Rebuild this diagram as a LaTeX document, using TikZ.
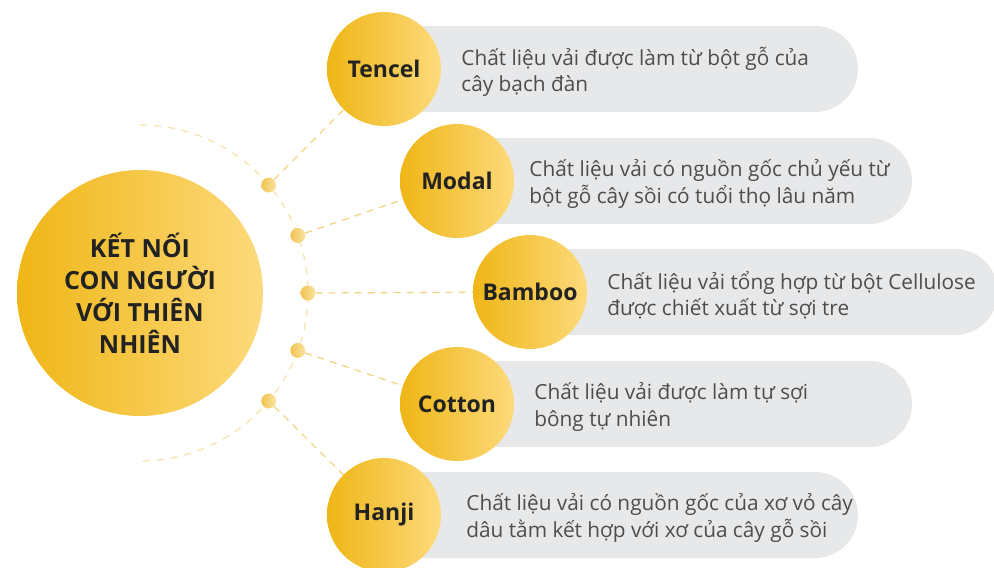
\documentclass[tikz,border=0pt]{standalone}
\usepackage{fontspec}
\setmainfont{Open Sans}
\usetikzlibrary{positioning,backgrounds}
\definecolor{goldL}{HTML}{EFB616}
\definecolor{goldR}{HTML}{FDDA7C}
\definecolor{dotL}{HTML}{F0C453}
\definecolor{dotR}{HTML}{FBE3A2}
\definecolor{pillgray}{HTML}{E7E8EA}
\definecolor{ink}{HTML}{222222}
\definecolor{bodytxt}{HTML}{4D4D4D}
\definecolor{linkc}{HTML}{F2D27C}
\definecolor{arcc}{HTML}{F6E2A6}

\begin{document}
\begin{tikzpicture}[
  x=1pt, y=-1pt,
  hub/.style={circle, inner sep=0, minimum size=246pt, left color=goldL,
    right color=goldR, align=center, text=ink,
    font=\bfseries\fontsize{25}{32}\selectfont},
  item/.style={circle, inner sep=0, minimum size=114pt, left color=goldL,
    right color=goldR, text=ink, font=\bfseries\fontsize{23}{27}\selectfont},
  dot/.style={circle, inner sep=0, minimum size=15pt, left color=dotL, right color=dotR},
  desc/.style={inner sep=0, align=left, text=bodytxt, yshift=-3pt,
    font=\fontsize{20.8}{26.5}\selectfont},
  pill/.style={fill=pillgray, rounded corners=43pt},
  link/.style={draw=linkc, line width=1.2pt, dash pattern=on 7pt off 6pt},
  arcline/.style={draw=arcc, line width=1.2pt, dash pattern=on 7pt off 7pt}
]
\useasboundingbox (0,0) rectangle (994,568);

% centre and dots on the arc
\node[hub] (hub) at (140,293) {KẾT NỐI\\CON NGƯỜI\\VỚI THIÊN\\NHIÊN};
\node[dot] (d1) at ([shift={(-40:168)}]hub.center) {};
\node[dot] (d2) at ([shift={(-20:168)}]hub.center) {};
\node[dot] (d3) at ([shift={(0:168)}]hub.center) {};
\node[dot] (d4) at ([shift={(20:168)}]hub.center) {};
\node[dot] (d5) at ([shift={(40:168)}]hub.center) {};

% materials
\node[item] (tencel) at (384,69) {Tencel};
\node[item] (modal) at (457,181) {Modal};
\node[item] (bamboo) at (530,292) {Bamboo};
\node[item] (cotton) at (457,404) {Cotton};
\node[item] (hanji) at (384,515) {Hanji};

\node[desc, right=20pt of tencel] (tencel-txt) {Chất liệu vải được làm từ bột gỗ của\\cây bạch đàn};
\node[desc, right=15pt of modal] (modal-txt) {Chất liệu vải có nguồn gốc chủ yếu từ\\bột gỗ cây sồi có tuổi thọ lâu năm};
\node[desc, right=20pt of bamboo] (bamboo-txt) {Chất liệu vải tổng hợp từ bột Cellulose\\được chiết xuất từ sợi tre};
\node[desc, right=20pt of cotton] (cotton-txt) {Chất liệu vải được làm tự sợi\\bông tự nhiên};
\node[desc, right=25pt of hanji] (hanji-txt) {Chất liệu vải có nguồn gốc của xơ vỏ cây\\dâu tằm kết hợp với xơ của cây gỗ sồi};

\begin{scope}[on background layer]
  \fill[pill] (tencel.center) ++(0,-43) rectangle ++(474,86);
  \fill[pill] (modal.center) ++(0,-43) rectangle ++(455,86);
  \fill[pill] (bamboo.center) ++(0,-43) rectangle ++(468,86);
  \fill[pill] (cotton.center) ++(0,-43) rectangle ++(455,86);
  \fill[pill] (hanji.center) ++(0,-43) rectangle ++(474,86);
  \draw[arcline] (hub.center) ++(0,-168) arc[start angle=-90, end angle=90, radius=168];
  \draw[link] (d1) -- (tencel.center);
  \draw[link] (d2) -- (modal.center);
  \draw[link] (d3) -- (bamboo.center);
  \draw[link] (d4) -- (cotton.center);
  \draw[link] (d5) -- (hanji.center);
\end{scope}
\end{tikzpicture}
\end{document}
